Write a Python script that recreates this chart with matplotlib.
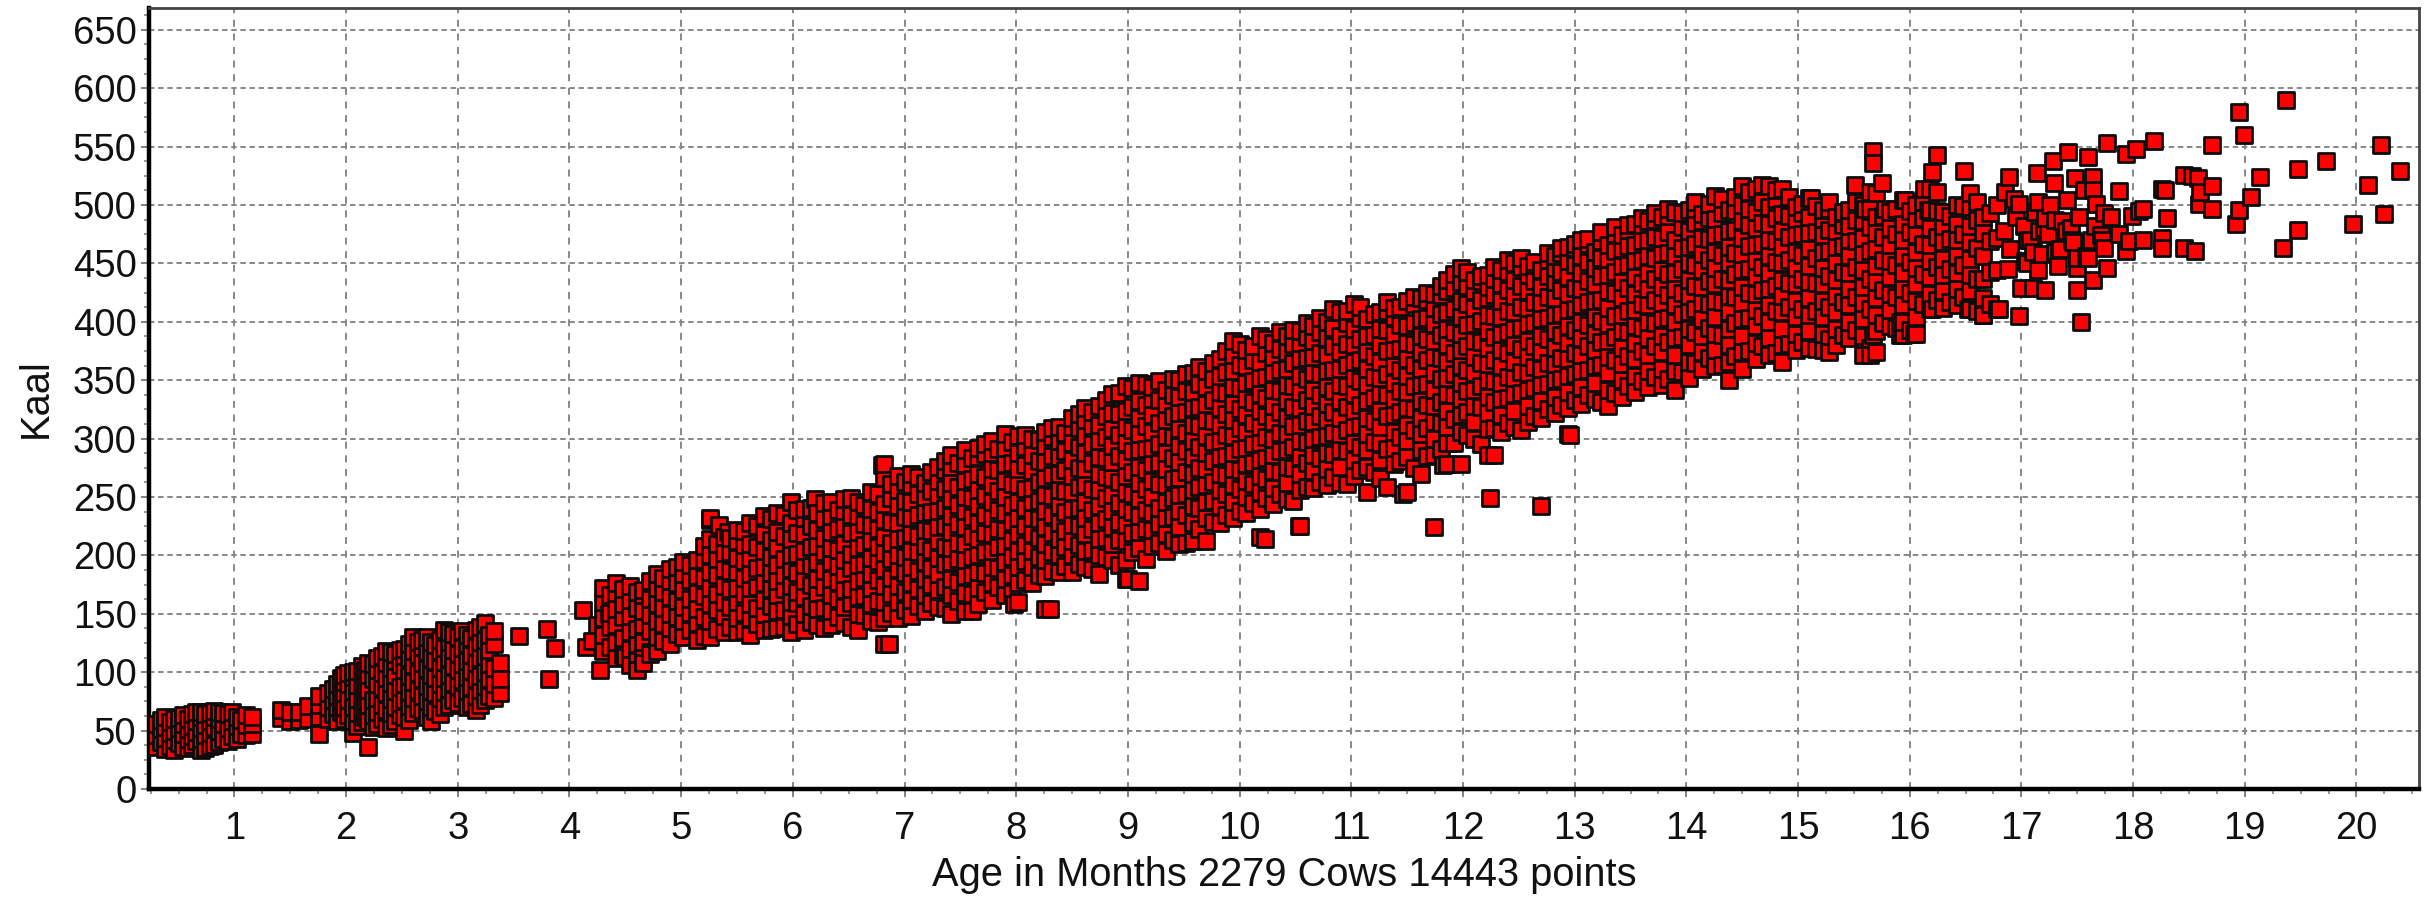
import matplotlib
matplotlib.use("Agg")
import matplotlib.pyplot as plt
from matplotlib.ticker import FixedLocator, MultipleLocator

plt.rcParams['font.family'] = ['Liberation Sans', 'DejaVu Sans']

x_ticks = list(range(1, 21))
y_ticks = list(range(0, 651, 50))
x_label = "Age in Months 2279 Cows 14443 points"
y_label = "Kaal"

calves = [(0.30,[36,46,56]),(0.38,[34,44,53,62]),(0.46,[33,42,50,60]),(0.54,[36,47,56,63]),(0.62,[38,45,54,64]),
(0.70,[33,43,52,62,66]),(0.78,[37,48,58,65]),(0.86,[40,50,60,66]),(0.94,[41,52,64]),(1.02,[43,54,62]),(1.10,[46,55,63]),(1.16,[47,56,62])]
calves_between = [(0.34,[40,51,59]),(0.42,[37,48,57]),(0.50,[39,52,61]),(0.58,[35,43,51,60]),(0.66,[41,49,58,66]),(0.74,[35,46,55,64]),
(0.82,[38,53,62,67]),(0.90,[43,56,65]),(0.98,[45,58,66]),(1.06,[47,59])]
young = [(1.42,[61,68]),(1.50,[58,66]),(1.58,[59,66]),(1.66,[60,71]),(1.76,[47,62,72,80]),(1.84,[60,70,82]),(1.92,[58,70,80,90]),
(1.98,[60,70,82,92,98]),(2.06,[48,58,70,84,96,100]),(2.14,[57,68,80,92,105]),(2.20,[36,58,72,85,98,108]),(2.28,[56,66,78,90,102,112]),
(2.36,[52,68,82,95,108,118]),(2.44,[58,70,84,98,110,116]),(2.52,[50,62,76,90,102,114,120]),(2.60,[65,78,92,106,118,130]),
(2.68,[68,80,94,108,122,128]),(2.76,[58,70,84,98,112,126]),(2.84,[64,78,90,104,118,128]),(2.92,[72,86,98,112,126,134]),
(3.00,[74,88,102,116,130]),(3.08,[70,84,96,110,124,132]),(3.16,[68,80,94,108,122,136]),(3.24,[76,88,100,114,128,142]),
(3.32,[78,90,104,124,135]),(3.38,[82,94,108])]
young_between = [(1.88,[64,76,86]),(1.95,[66,75,87,95]),(2.02,[63,76,90,99]),(2.10,[54,65,77,89,101]),(2.17,[62,75,88,102]),(2.24,[53,63,76,94,107]),
(2.32,[60,72,87,99,114]),(2.40,[55,65,77,91,104,117]),(2.48,[63,74,87,106,119]),(2.56,[59,71,83,97,112,124]),(2.64,[69,85,99,115,126]),
(2.72,[62,75,88,103,117,130]),(2.80,[67,82,95,110,123]),(2.88,[70,83,95,109,121,136]),(2.96,[76,91,105,119,133]),(3.04,[78,93,107,121,135]),
(3.12,[73,87,101,115,129]),(3.20,[72,85,97,112,126,139]),(3.28,[80,94,107,119,132])]
months_4_7 = [(4.30,[118,132,146,160,172]),(4.42,[112,126,140,154,168,176]),(4.54,[106,120,134,148,162,174]),(4.66,[112,126,140,152,166,170]),
(4.78,[118,130,144,158,172,184]),(4.90,[124,138,150,164,178,188]),(5.02,[130,144,156,170,184,194]),(5.14,[128,142,154,168,182,196]),
(5.26,[130,144,158,172,186,200,214,230]),(5.38,[134,148,160,174,188,202,216]),(5.50,[134,146,160,172,186,198,212,222]),
(5.62,[132,146,158,172,184,198,210,228]),(5.74,[136,150,162,176,190,204,218,234]),(5.86,[138,152,166,178,192,206,220,236]),
(5.98,[134,148,160,174,188,200,214,228,246]),(6.10,[136,150,164,178,192,204,218,232,240]),(6.22,[140,154,168,180,194,208,222,236]),
(6.34,[140,152,166,180,194,206,220,234,246]),(6.46,[142,156,170,184,196,210,224,238,248]),(6.58,[136,150,164,178,192,206,220,234,246]),
(6.70,[144,158,172,184,198,212,226,240,254]),(6.82,[124,146,160,174,188,202,216,230,244,266,278]),(6.94,[146,160,174,188,200,214,228,242,256,268])]
months_4_7_between = [(4.36,[122,139,151,166]),(4.48,[115,129,147,158,171]),(4.60,[110,124,137,155,169]),(4.72,[117,135,149,163,178]),
(4.84,[127,141,155,169,181]),(4.96,[133,147,161,176,190]),(5.08,[136,151,163,179,192]),(5.20,[131,147,165,181,196,208]),
(5.32,[137,153,167,183,197,210]),(5.44,[139,156,171,187,203,215]),(5.56,[135,151,167,181,195,209,221]),(5.68,[141,155,173,189,207,225]),
(5.80,[137,157,171,185,199,213,231]),(5.92,[139,153,171,183,197,217,235]),(6.04,[141,159,169,185,201,219,239]),(6.16,[143,157,175,191,207,225,241]),
(6.28,[138,155,173,187,203,215,231,245]),(6.40,[147,163,177,191,205,223,239]),(6.52,[139,159,171,189,201,219,235,249]),(6.64,[149,165,181,193,209,227,243]),
(6.76,[143,161,179,195,207,223,237,253]),(6.88,[151,167,181,197,211,229,249,261])]
months_7_10 = [(7.06,[148,162,176,190,204,218,232,246,260,270]),(7.18,[152,166,180,194,208,222,236,250,262]),
(7.30,[156,170,184,198,212,224,238,252,264,276]),(7.42,[150,166,180,194,206,220,234,248,262,276,286]),
(7.54,[152,168,182,196,210,224,238,250,264,278,290]),(7.66,[158,172,186,200,214,228,242,256,270,284,292]),
(7.78,[162,176,190,204,218,232,246,260,274,288,298]),(7.90,[166,180,194,208,222,236,250,264,278,292,304]),
(8.02,[160,176,190,204,218,232,246,260,274,288,302]),(8.14,[176,190,204,218,232,246,258,272,286,300]),
(8.26,[154,182,196,210,224,238,252,266,280,294,306]),(8.38,[186,200,214,228,242,256,270,284,298,310]),
(8.50,[186,200,212,226,240,254,268,282,296,310,318]),(8.62,[190,204,218,232,246,260,274,288,302,316,326]),
(8.74,[184,200,214,228,242,256,270,284,298,312,328]),(8.86,[196,210,224,238,252,266,280,294,308,322,338]),
(8.98,[180,196,212,226,240,254,268,282,296,310,324,345]),(9.10,[178,206,220,234,248,262,276,290,304,318,332,348]),
(9.22,[208,222,236,250,264,278,292,306,320,334,344]),(9.34,[204,218,232,246,260,274,288,302,316,330,342]),
(9.46,[210,224,238,252,266,280,294,308,322,336,350]),(9.58,[212,228,242,256,270,284,298,312,326,340,356]),
(9.70,[212,232,246,260,274,288,302,316,330,344,358]),(9.82,[228,242,256,270,284,298,312,326,340,354,368]),
(9.94,[232,246,260,274,288,302,316,330,344,358,372,384])]
months_7_10_between = [(7.00,[153,169,185,199,215,233,247,263]),(7.12,[157,171,187,203,217,235,253,267]),(7.24,[159,175,189,205,221,237,255,271]),
(7.36,[155,173,193,207,225,241,257,273,281]),(7.48,[161,177,197,211,227,243,259,279]),(7.60,[152,167,183,199,217,233,249,265,283]),
(7.72,[169,185,203,219,235,251,267,287,295]),(7.84,[173,189,207,223,239,255,273,291]),(7.96,[168,183,199,213,229,243,261,279,297]),
(8.08,[179,195,209,225,241,257,277,293,303]),(8.20,[183,199,215,231,247,263,281,299]),(8.32,[187,203,219,235,251,269,285,301,309]),
(8.44,[191,207,221,237,255,273,289,305]),(8.56,[193,209,225,241,259,275,293,309,321]),(8.68,[188,205,223,239,257,279,295,311,323]),
(8.80,[199,215,231,249,267,283,301,319,333]),(8.92,[192,213,229,245,263,285,303,321,339]),(9.04,[203,219,237,253,271,289,307,327,343]),
(9.16,[197,223,239,257,273,291,311,329,347]),(9.28,[211,227,241,261,279,295,313,333,349]),(9.40,[213,233,249,265,283,301,319,337,351]),
(9.52,[211,235,253,271,289,305,323,341,355]),(9.64,[223,241,259,275,293,311,327,347,361]),(9.76,[229,247,263,281,297,315,333,351,365]),
(9.88,[235,253,269,285,303,321,339,357,375])]
months_10_13 = [(10.06,[236,250,264,278,292,306,320,334,348,362,376]),(10.18,[216,240,254,268,282,296,310,324,338,352,366,388]),
(10.30,[244,258,272,286,300,314,328,342,356,370,382]),(10.42,[248,262,276,290,304,318,332,346,360,374,388]),
(10.54,[225,256,270,284,298,312,326,340,354,368,382,392]),(10.66,[258,272,286,300,314,328,342,356,370,384,396]),
(10.78,[260,274,288,302,316,330,344,358,372,386,400]),(10.90,[262,276,290,304,318,332,346,360,374,388,408]),
(11.02,[268,282,296,310,324,338,352,366,380,394,415]),(11.14,[254,276,290,304,318,332,346,360,374,388,402]),
(11.26,[266,282,296,310,324,338,352,366,380,394,408]),(11.38,[278,292,306,320,334,348,362,376,390,404,412]),
(11.50,[254,284,298,312,326,340,354,368,382,396,418]),(11.62,[270,290,304,318,332,346,360,374,388,402,420]),
(11.74,[224,286,300,314,328,342,356,370,384,398,412,424]),(11.86,[278,296,310,324,338,352,366,380,394,408,426,436]),
(11.98,[278,306,320,334,348,362,376,390,404,418,434,446]),(12.10,[300,314,328,342,356,370,384,398,412,426,436]),
(12.22,[286,308,322,336,350,364,378,392,406,420,430,440]),(12.34,[306,320,334,348,362,376,390,404,418,432,444]),
(12.46,[310,324,338,352,366,380,394,408,422,436,450]),(12.58,[314,328,342,356,370,384,398,412,426,440,448]),
(12.70,[242,318,332,346,360,374,388,402,416,430,444]),(12.82,[322,336,350,364,378,392,406,420,434,446,456]),
(12.94,[304,326,340,354,368,382,396,410,424,438,452,464])]
months_10_13_between = [(10.00,[238,257,273,291,309,325,343,363,381]),(10.12,[245,261,279,295,313,331,349,367,379]),(10.24,[249,265,283,301,319,335,353,373,385]),
(10.36,[253,271,289,305,323,341,359,377,391]),(10.48,[247,275,293,311,327,345,365,381,393]),(10.60,[259,279,297,315,333,351,369,387,399]),
(10.72,[263,283,301,319,337,355,373,391,403]),(10.84,[267,287,305,323,341,359,379,395,411]),(10.96,[261,289,307,327,345,363,381,399,409]),
(11.08,[273,293,311,329,349,367,385,403,413]),(11.20,[271,297,315,335,353,371,389,407]),(11.32,[259,291,319,337,355,375,393,409,417]),
(11.44,[281,301,323,341,359,377,397,413]),(11.56,[275,307,325,345,363,381,399,415,421]),(11.68,[285,309,329,347,367,385,403,419,425]),
(11.80,[291,313,331,351,369,389,407,423,431]),(11.92,[296,317,337,355,373,391,411,429,441]),(12.04,[303,323,341,359,379,397,415,431,443]),
(12.16,[295,327,345,365,383,401,419,435,439]),(12.28,[309,331,349,367,387,405,423,437,447]),(12.40,[313,335,353,373,391,409,427,443,453]),
(12.52,[307,339,357,377,395,413,431,447,455]),(12.64,[319,343,361,379,399,417,435,449,451]),(12.76,[325,347,365,385,403,421,439,453,459]),
(12.88,[329,351,369,389,407,427,443,459,463])]
months_13_15 = [(13.06,[330,344,358,372,386,400,414,428,442,456,470]),(13.18,[334,348,362,376,390,404,418,432,446,460]),
(13.30,[328,342,356,370,384,398,412,426,440,454,466]),(13.42,[336,350,364,378,392,406,420,434,448,462,474]),
(13.54,[340,354,368,382,396,410,424,438,452,466,484]),(13.66,[344,358,372,386,400,414,428,442,456,470,486]),
(13.78,[346,360,374,388,402,416,430,444,458,472,490]),(13.90,[342,358,372,386,400,414,428,442,456,470,494]),
(14.02,[352,366,380,394,408,422,436,450,464,478,496]),(14.14,[360,374,388,402,416,430,444,458,472,486,492]),
(14.26,[362,376,390,404,418,432,446,460,474,488,508]),(14.38,[350,366,380,394,408,422,436,450,464,478,496]),
(14.50,[360,374,388,402,416,430,444,458,472,486,500,516]),(14.62,[368,382,396,410,424,438,452,466,480,494,514]),
(14.74,[372,386,400,414,428,442,456,470,484,498,516]),(14.86,[366,380,394,408,422,436,450,464,478,492,514]),
(14.98,[376,390,404,418,432,446,460,474,488,498])]
months_13_15_between = [(13.00,[333,355,373,393,411,429,449,463,467]),(13.12,[337,359,379,397,417,435,451,467,471]),(13.24,[331,363,383,401,419,439,455,469,477]),
(13.36,[339,367,387,405,425,443,461,475,481]),(13.48,[345,371,391,409,429,449,465,479,483]),(13.60,[349,375,395,415,433,453,469,483,489]),
(13.72,[353,379,399,419,437,455,473,487,493]),(13.84,[351,383,403,423,441,459,477,491,497]),(13.96,[357,387,407,425,445,463,481,493]),
(14.08,[365,391,411,431,449,467,485,497,503]),(14.20,[369,395,415,435,453,471,489,501]),(14.32,[363,389,417,437,457,475,493,505]),
(14.44,[371,399,421,441,459,479,495,507]),(14.56,[375,403,425,445,465,483,497,511]),(14.68,[379,405,427,447,467,485,503,517]),
(14.80,[373,409,431,451,469,489,505,513]),(14.92,[381,413,433,453,473,491,507])]
months_15_17 = [(15.10,[378,392,406,420,434,448,462,476,490,506]),(15.22,[376,390,404,418,432,446,460,474,488,496]),
(15.34,[380,394,408,422,436,450,464,478,490]),(15.46,[386,400,414,428,442,456,470,482,496]),
(15.58,[372,388,402,416,430,444,458,472,486,500]),(15.70,[374,392,406,420,434,448,462,476,490,510]),
(15.82,[396,410,424,438,452,466,480,494]),(15.94,[389,400,414,428,442,456,470,484,504]),
(16.06,[390,404,418,432,446,460,474,488,500]),(16.18,[411,424,438,452,466,480,496,514]),
(16.30,[412,426,440,454,468,482,494]),(16.42,[414,428,442,456,470,484,500]),(16.54,[411,426,440,454,468,482,498,510]),
(16.66,[406,420,437,456,476,490]),(16.78,[411,444,472,500])]
months_15_17_between = [(15.04,[383,411,437,457,475,493,501]),(15.16,[377,409,433,455,477,499]),(15.28,[385,413,439,461,479,497]),(15.40,[389,417,443,465,483,493]),
(15.52,[393,421,447,469,487,503]),(15.64,[378,411,437,461,481,497]),(15.76,[399,427,453,473,491]),(15.88,[395,421,449,475,497]),(16.00,[393,425,451,477,495]),
(16.12,[415,441,467,489,503]),(16.24,[419,447,473,495,511]),(16.36,[417,445,471,491]),(16.48,[421,449,475,499]),(16.60,[409,437,463,487,503]),(16.72,[415,443,469,493])]
right_age = [19.37,18.95,18.99,18.71,18.19,18.03,17.94,17.77,17.6,17.42,17.28,20.22,19.73,19.48,19.14,20.39,20.10,20.25,19.97,19.48,19.34,19.06,18.95,18.92,
18.71,18.71,18.59,18.6,18.58,18.53,18.46,18.55,18.46,18.29,18.26,18.3,18.26,18.26,18.09,18.05,17.99,18.09,17.96,17.94,17.87,17.87,17.74,17.74,17.71,17.67,
17.64,17.64,17.56,17.48,17.77,17.64,17.5,17.5,17.53,17.41,17.36,17.21,17.15,17.15,17.21,17.1,17.0,16.98,17.29,17.14,16.89,16.98,16.85,16.49,16.24,16.2,16.16,16.13,15.96,15.75,
15.67,15.67,15.51,15.64,15.12,15.28,15.4,15.6,15.78,16.8,16.66,16.52,16.2,16.04,15.91,15.91,15.67,15.28,15.64,17.05,17.2,17.3,17.45,17.6,17.05,17.35,
16.84,16.9,16.95,17.02,17.08,17.12,17.18,17.24,17.3,17.34,17.4,17.46,17.52,17.58,17.66,17.72,17.8,16.88,16.93,17.03,17.1,17.16,17.26,17.33,17.44,17.5,17.62]
right_kaal = [590,580,560,551,555,548,544,553,541,545,538,551,538,531,524,529,517,492,484,479,463,507,496,484,
516,497,501,511,523,525,526,461,463,513,514,489,472,463,497,495,491,470,469,461,512,475,493,463,474,501,
524,513,513,523,446,436,446,427,400,504,486,489,503,444,427,429,429,405,519,527,524,501,511,529,543,528,496,514,504,519,
546,536,517,511,506,503,494,497,497,411,406,411,411,390,389,400,389,374,372,470,480,460,470,455,450,462,
478,462,490,482,470,494,458,475,487,462,478,468,490,456,482,470,490,445,505,452,460,478,500,448,480,455,470]
gap_age = [3.55,3.80,3.87,3.82,4.12,4.20,4.15,4.27,4.50,4.60,4.66,4.72,4.35,4.25,6.86,8.30,7.98,9.0,10.23,10.53,11.46,12.24,12.96,12.28,11.82,6.8,6.2,5.26,5.34,5.42]
gap_kaal = [131,137,121,94,153,127,122,102,113,102,108,116,150,140,124,154,158,180,214,225,253,249,303,286,277,277,248,232,226,220]

COLUMN_GROUPS = [calves, calves_between, young, young_between, months_4_7, months_4_7_between, months_7_10, months_7_10_between,
                 months_10_13, months_10_13_between, months_13_15, months_13_15_between, months_15_17, months_15_17_between]

points = []
for group in COLUMN_GROUPS:
    for age, values in group:
        points += [(age, v) for v in values]
points += list(zip(gap_age, gap_kaal)) + list(zip(right_age, right_kaal))
points.sort(key=lambda p: p[0])
ages = [p[0] for p in points]
kaals = [p[1] for p in points]

fig = plt.figure(figsize=(24.35, 8.98), dpi=100)
ax = fig.add_axes([149/2435, 1-789/898, (2419-149)/2435, (789-8)/898])
ax.set_xlim(0.235, 20.56)
ax.set_ylim(0, 668.7)
ax.scatter(ages, kaals, marker='s', s=118, facecolor='#ff0000', edgecolor='#0c0c0c', linewidth=2.0, zorder=3)

ax.xaxis.set_major_locator(FixedLocator(x_ticks))
ax.yaxis.set_major_locator(FixedLocator(y_ticks))
ax.xaxis.set_minor_locator(MultipleLocator(0.25))
ax.yaxis.set_minor_locator(MultipleLocator(12.5))
ax.xaxis.grid(True, which='major', color='#888888', linestyle=(0, (3.6, 3.4)), linewidth=1.4)
ax.yaxis.grid(True, which='major', color='#888888', linestyle=(0, (2.8, 1.9)), linewidth=1.4)
ax.set_axisbelow(True)
ax.tick_params(axis='x', which='major', labelsize=27.5, length=6, width=1.3, color='#777777', labelcolor='#111111', pad=10)
ax.tick_params(axis='y', which='major', labelsize=27.5, length=6, width=1.3, color='#777777', labelcolor='#111111', pad=3)
ax.tick_params(axis='both', which='minor', length=3.5, width=1.2, color='#888888')
ax.set_xlabel(x_label, fontsize=28.7, color='#111111', labelpad=6)
ax.set_ylabel(y_label, fontsize=28.7, color='#111111', labelpad=13)
for side, w, c in [('left', 3.2, '#000000'), ('bottom', 3.2, '#000000'), ('top', 2, '#444444'), ('right', 2, '#444444')]:
    ax.spines[side].set_linewidth(w)
    ax.spines[side].set_color(c)
fig.savefig('out.png', dpi=100)
